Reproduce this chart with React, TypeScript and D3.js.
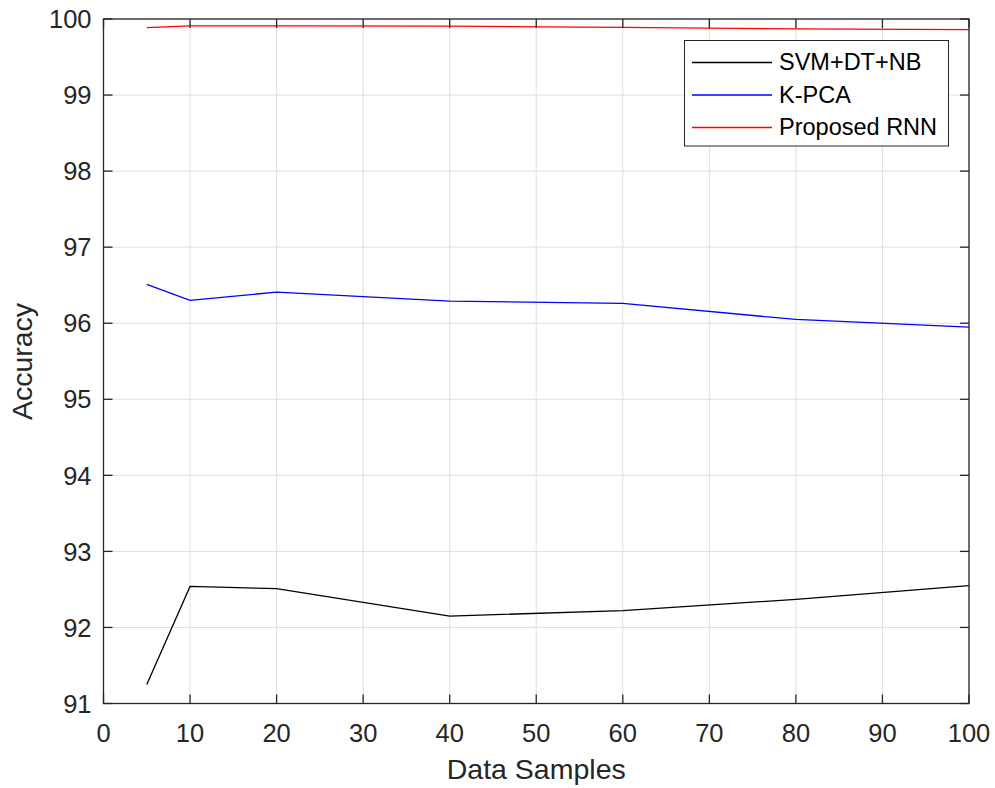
import React from "react";
import * as d3 from "d3";

const xSamples = [5, 10, 20, 40, 60, 80, 100];
const svmDtNb = [91.25, 92.54, 92.51, 92.15, 92.22, 92.37, 92.55];
const kpca = [96.51, 96.30, 96.41, 96.29, 96.26, 96.05, 95.95];
const proposedRnn = [99.886, 99.91, 99.91, 99.905, 99.89, 99.87, 99.86];
const xTicks = [0, 10, 20, 30, 40, 50, 60, 70, 80, 90, 100];
const yTicks = [91, 92, 93, 94, 95, 96, 97, 98, 99, 100];
const seriesNames = ["SVM+DT+NB", "K-PCA", "Proposed RNN"];
const seriesColors = ["#000000", "#0000ff", "#ff0000"];

export default function App() {
  const W = 995, H = 788;
  const left = 103.5, right = 969, top = 19, bottom = 703.5;
  const x = d3.scaleLinear().domain([0, 100]).range([left, right]);
  const y = d3.scaleLinear().domain([91, 100]).range([bottom, top]);
  const series = [svmDtNb, kpca, proposedRnn];
  const line = d3.line<number>().x((_, i) => x(xSamples[i])).y((d) => y(d));
  const font = "Arial, 'Liberation Sans', Helvetica, sans-serif";
  const axisColor = "#262626";
  const tickLen = 9;
  return (
    <svg width={W} height={H} style={{ position: "absolute", left: 0, top: 0, background: "#fff" }} fontFamily={font}>
      <rect x={0} y={0} width={W} height={H} fill="#fff" />
      {/* grid */}
      {xTicks.map((t) => (
        <line key={"gx" + t} x1={x(t)} x2={x(t)} y1={top} y2={bottom} stroke="#dfdfdf" strokeWidth={1} />
      ))}
      {yTicks.map((t) => (
        <line key={"gy" + t} x1={left} x2={right} y1={y(t)} y2={y(t)} stroke="#dfdfdf" strokeWidth={1} />
      ))}
      {/* series */}
      {series.map((s, i) => (
        <path key={"s" + i} d={line(s) || ""} fill="none" stroke={seriesColors[i]} strokeWidth={1.3} />
      ))}
      {/* ticks */}
      {xTicks.map((t) => (
        <g key={"tx" + t}>
          <line x1={x(t)} x2={x(t)} y1={bottom} y2={bottom - tickLen} stroke={axisColor} strokeWidth={1.3} />
          <line x1={x(t)} x2={x(t)} y1={top} y2={top + tickLen} stroke={axisColor} strokeWidth={1.3} />
          <text x={x(t)} y={741.5} textAnchor="middle" fontSize={25.5} fill={axisColor}>{t}</text>
        </g>
      ))}
      {yTicks.map((t) => (
        <g key={"ty" + t}>
          <line x1={left} x2={left + tickLen} y1={y(t)} y2={y(t)} stroke={axisColor} strokeWidth={1.3} />
          <line x1={right} x2={right - tickLen} y1={y(t)} y2={y(t)} stroke={axisColor} strokeWidth={1.3} />
          <text x={91.5} y={y(t) + 9.2} textAnchor="end" fontSize={25.5} fill={axisColor}>{t}</text>
        </g>
      ))}
      {/* box */}
      <rect x={left} y={top} width={right - left} height={bottom - top} fill="none" stroke={axisColor} strokeWidth={1.3} />
      {/* axis labels */}
      <text x={(left + right) / 2} y={779} textAnchor="middle" fontSize={28.5} fill={axisColor}>Data Samples</text>
      <text transform={`translate(31.5, 361.5) rotate(-90)`} textAnchor="middle" fontSize={28.5} fill={axisColor}>Accuracy</text>
      {/* legend */}
      <rect x={684.5} y={40.5} width={264} height={105.5} fill="#fff" stroke={axisColor} strokeWidth={1} />
      {seriesNames.map((n, i) => {
        const cy = 62.5 + i * 32.5;
        return (
          <g key={"lg" + i}>
            <line x1={692} x2={772} y1={cy} y2={cy} stroke={seriesColors[i]} strokeWidth={1.3} />
            <text x={779} y={cy + 7.8} fontSize={23.5} fill="#000">{n}</text>
          </g>
        );
      })}
    </svg>
  );
}
